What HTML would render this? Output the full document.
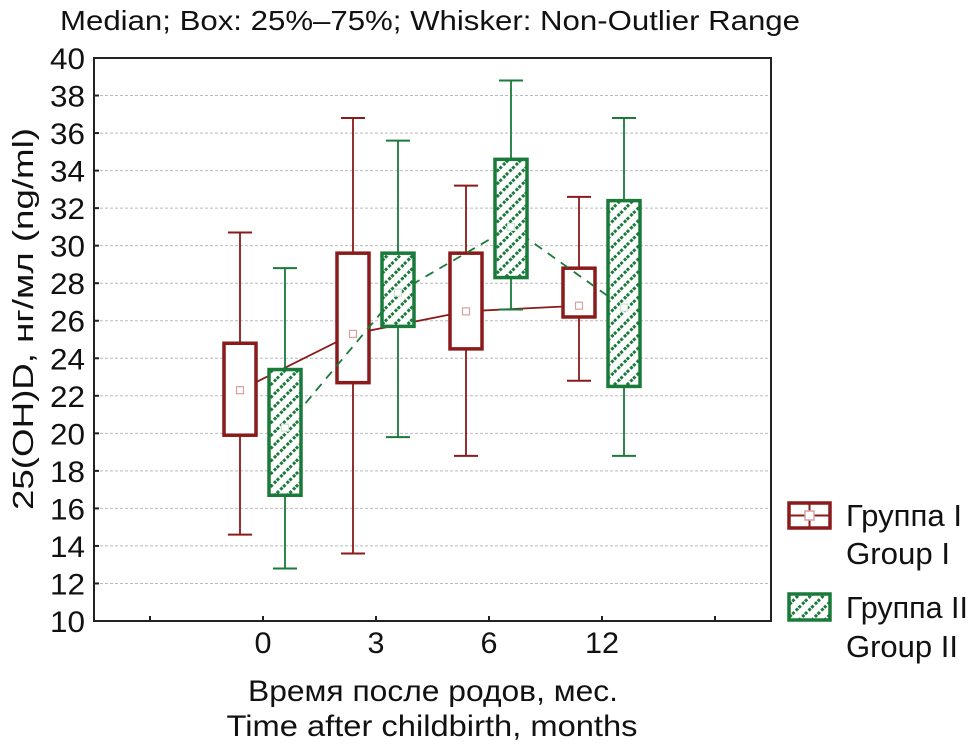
<!DOCTYPE html>
<html><head><meta charset="utf-8"><style>
body{margin:0;background:#fff;width:972px;height:751px;overflow:hidden}
text{font-family:"Liberation Sans","DejaVu Sans",sans-serif;fill:#111}
</style></head><body>
<svg id="chart" width="972" height="751" viewBox="0 0 972 751" xmlns="http://www.w3.org/2000/svg">
<defs>
<pattern id="hatch" patternUnits="userSpaceOnUse" width="9" height="9" patternTransform="rotate(-45)">
<rect width="9" height="9" fill="#fff"/>
<line x1="0" y1="4.5" x2="9" y2="4.5" stroke="#1a7a3a" stroke-width="3" stroke-dasharray="3,2"/>
</pattern>
</defs>
<text x="60" y="30" font-size="28" textLength="740" lengthAdjust="spacingAndGlyphs">Median; Box: 25%–75%; Whisker: Non-Outlier Range</text>
<g id="grid"></g>
<rect x="94" y="58" width="677" height="563" fill="none" stroke="#222" stroke-width="2"/>
<g id="axes"></g>
<g id="marks"></g>
<text transform="translate(33,319) rotate(-90)" text-anchor="middle" font-size="29" textLength="382" lengthAdjust="spacingAndGlyphs">25(OH)D, нг/мл (ng/ml)</text>
<text x="433" y="701" text-anchor="middle" font-size="30" textLength="370" lengthAdjust="spacingAndGlyphs">Время после родов, мес.</text>
<text x="432" y="736" text-anchor="middle" font-size="30" textLength="411" lengthAdjust="spacingAndGlyphs">Time after childbirth, months</text>
<g>
<rect x="789" y="503" width="41" height="25" fill="#fff" stroke="#8b1a1a" stroke-width="3.5"/>
<line x1="789" y1="515.5" x2="830" y2="515.5" stroke="#8b1a1a" stroke-width="2"/>
<line x1="809.5" y1="503" x2="809.5" y2="528" stroke="#8b1a1a" stroke-width="2"/>
<rect x="805" y="511" width="9" height="9" fill="#fff" stroke="#d9a0a0" stroke-width="1.5"/>
<text x="846" y="526" font-size="31" textLength="116" lengthAdjust="spacingAndGlyphs">Группа I</text>
<text x="846" y="564" font-size="31" textLength="104" lengthAdjust="spacingAndGlyphs">Group I</text>
</g>
<g>
<rect x="789" y="594" width="41" height="26" fill="url(#hatch)" stroke="#1a7a3a" stroke-width="3.5"/>
<text x="846" y="618" font-size="31" textLength="122" lengthAdjust="spacingAndGlyphs">Группа II</text>
<text x="846" y="657" font-size="31" textLength="112" lengthAdjust="spacingAndGlyphs">Group II</text>
</g>
</svg>
<script>
const categories=["0","3","6","12"];
const yTicks=[10,12,14,16,18,20,22,24,26,28,30,32,34,36,38,40];
const g1Min=[14.6,13.6,18.8,22.8];
const g1Q1=[19.9,22.7,24.5,26.2];
const g1Med=[22.3,25.3,26.5,26.8];
const g1Q3=[24.8,29.6,29.6,28.8];
const g1Max=[30.7,36.8,33.2,32.6];
const g2Min=[12.8,19.8,26.6,18.8];
const g2Q1=[16.7,25.7,28.3,22.5];
const g2Med=[20.3,27.5,31.0,26.7];
const g2Q3=[23.4,29.6,34.6,32.4];
const g2Max=[28.8,35.6,38.8,36.8];

const NS="http://www.w3.org/2000/svg";
const y=v=>621-(v-10)*(563/30);
const x=i=>263+i*113;
function mk(tag,attrs,parent){const e=document.createElementNS(NS,tag);for(const k in attrs)e.setAttribute(k,attrs[k]);parent.appendChild(e);return e;}
const grid=document.getElementById('grid'),axes=document.getElementById('axes'),marks=document.getElementById('marks');
yTicks.forEach(t=>{
 if(t>10&&t<40){const l=mk('line',{x1:95,x2:770,y1:y(t),y2:y(t),stroke:'#bbb','stroke-width':1,'stroke-dasharray':'3,2'},grid);
 
 }
 const tk=mk('line',{x1:94,x2:99,y1:y(t),y2:y(t),stroke:'#222','stroke-width':2},axes);
 
 
 const tx=mk('text',{x:85,y:y(t)+11,'text-anchor':'end','font-size':30,textLength:35,lengthAdjust:'spacingAndGlyphs'},axes);tx.textContent=t;
 
 
});
for(let k=-1;k<=4;k++){const tk=mk('line',{x1:x(k),x2:x(k),y1:616,y2:621,stroke:'#222','stroke-width':2},axes);
 
 }
categories.forEach((c,i)=>{const tx=mk('text',{x:x(i),y:653,'text-anchor':'middle','font-size':30,textLength:c.length*17,lengthAdjust:'spacingAndGlyphs'},axes);tx.textContent=c;
 
 });
function group(mn,q1,md,q3,mx,off,col,fill,dash,name,mcol){
 const pts=categories.map((c,i)=>(x(i)+off)+','+y(md[i])).join(' ');
 const pl=mk('polyline',{points:pts,fill:'none',stroke:col,'stroke-width':1.8,'stroke-dasharray':dash},marks);
 
 
 categories.forEach((c,i)=>{
  const cx=x(i)+off;
  const g=mk('g',{},marks);
  
  
  mk('line',{x1:cx,x2:cx,y1:y(mn[i]),y2:y(mx[i]),stroke:col,'stroke-width':1.8},g);
  mk('line',{x1:cx-12,x2:cx+12,y1:y(mn[i]),y2:y(mn[i]),stroke:col,'stroke-width':2},g);
  mk('line',{x1:cx-12,x2:cx+12,y1:y(mx[i]),y2:y(mx[i]),stroke:col,'stroke-width':2},g);
  mk('rect',{x:cx-16,y:y(q3[i]),width:32,height:y(q1[i])-y(q3[i]),fill:fill,stroke:col,'stroke-width':3.5},g);
  mk('rect',{x:cx-3.5,y:y(md[i])-3.5,width:7,height:7,fill:'#fff',stroke:mcol,'stroke-width':1.2},g);
 });
}
group(g1Min,g1Q1,g1Med,g1Q3,g1Max,-23,'#8b1a1a','#fff','none','group-1','#d9a0a0');
group(g2Min,g2Q1,g2Med,g2Q3,g2Max,22,'#1a7a3a','url(#hatch)','9,7','group-2','#cfe3d6');
</script>
</body></html>
